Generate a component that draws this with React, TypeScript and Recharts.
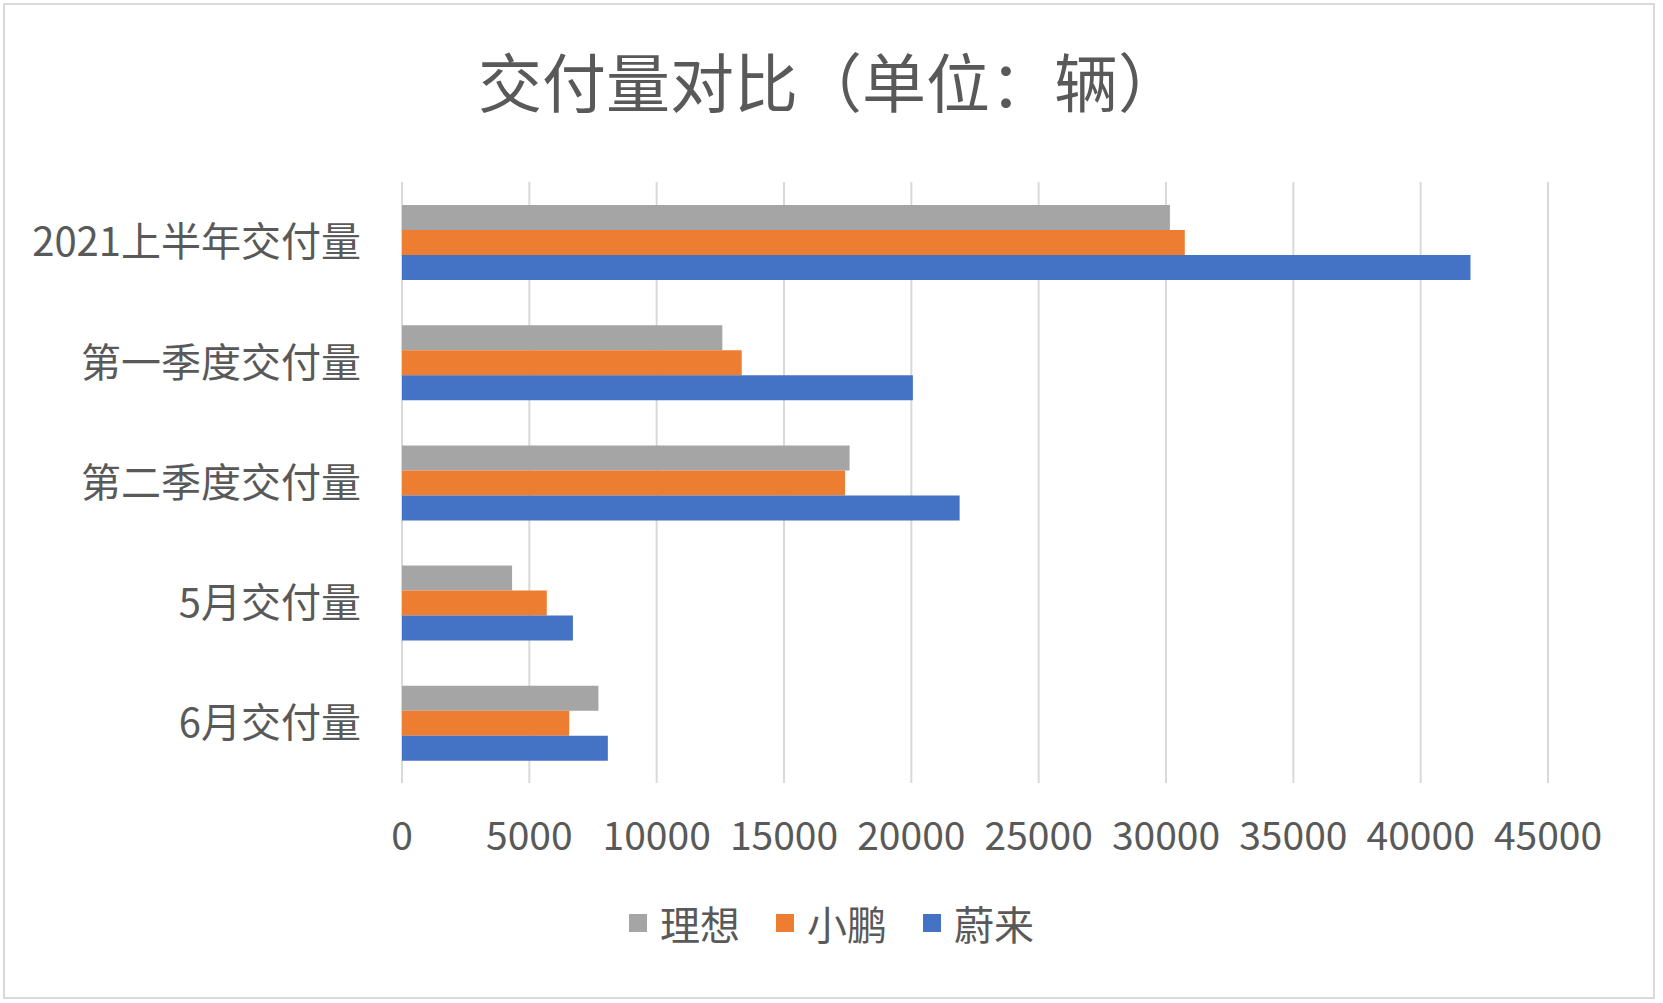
import { Bar, BarChart, CartesianGrid, Legend, XAxis, YAxis } from "recharts"

const categories = ["2021上半年交付量", "第一季度交付量", "第二季度交付量", "5月交付量", "6月交付量"]
const liAuto = [30154, 12579, 17575, 4323, 7713]
const xpeng = [30738, 13340, 17398, 5686, 6565]
const nio = [41956, 20060, 21896, 6711, 8083]
const xTicks = [0, 5000, 10000, 15000, 20000, 25000, 30000, 35000, 40000, 45000]

const series = [
  { key: "li", name: "理想", color: "#A5A5A5", values: liAuto },
  { key: "xp", name: "小鹏", color: "#ED7D31", values: xpeng },
  { key: "nio", name: "蔚来", color: "#4472C4", values: nio },
]

const data = categories.map((name, i) => {
  const row: Record<string, string | number> = { name }
  series.forEach((s) => {
    row[s.key] = s.values[i]
  })
  return row
})

const FONT = '"Noto Sans CJK SC", "Noto Sans", sans-serif'
const TEXT = "#595959"

const renderLegend = () => (
  <div
    style={{
      display: "flex",
      justifyContent: "center",
      alignItems: "center",
      height: 52,
      fontFamily: FONT,
      fontSize: 40,
      color: TEXT,
    }}
  >
    {series.map((s, i) => (
      <div
        key={s.key}
        style={{ display: "flex", alignItems: "center", marginRight: i < series.length - 1 ? 36 : 0 }}
      >
        <span style={{ width: 18, height: 18, background: s.color, marginRight: 13, display: "inline-block" }} />
        <span style={{ lineHeight: 1 }}>{s.name}</span>
      </div>
    ))}
  </div>
)

export default function App() {
  return (
    <div
      style={{
        position: "absolute",
        left: 0,
        top: 0,
        width: 1663,
        height: 1003,
        background: "#fff",
        fontFamily: FONT,
      }}
    >
      <div
        style={{
          position: "absolute",
          left: 3,
          top: 3,
          width: 1648,
          height: 992,
          border: "2px solid #d9d9d9",
        }}
      />
      <div
        style={{
          position: "absolute",
          left: 0,
          top: 47,
          width: 1660,
          textAlign: "center",
          fontSize: 64,
          lineHeight: 1,
          color: TEXT,
        }}
      >
        交付量对比（单位：辆）
      </div>
      <BarChart
        width={1663}
        height={1003}
        data={data}
        layout="vertical"
        margin={{ top: 182, right: 115, bottom: 140, left: 0 }}
        barCategoryGap={23}
        barGap={0}
      >
        <CartesianGrid horizontal={false} stroke="#d9d9d9" strokeWidth={2} />
        <XAxis
          type="number"
          domain={[0, 45000]}
          ticks={xTicks}
          interval={0}
          axisLine={false}
          tickLine={false}
          tickSize={0}
          tickMargin={39}
          height={80}
          tick={{ fill: TEXT, fontSize: 39, fontFamily: FONT }}
        />
        <YAxis
          type="category"
          dataKey="name"
          width={402}
          axisLine={false}
          tickLine={false}
          tickSize={0}
          tickMargin={41}
          tick={{ fill: TEXT, fontSize: 40, fontFamily: FONT }}
        />
        <Legend
          verticalAlign="middle"
          align="center"
          content={renderLegend}
          wrapperStyle={{ top: 897, left: 0, width: 1663, height: 52 }}
        />
        {series.map((s) => (
          <Bar key={s.key} dataKey={s.key} name={s.name} fill={s.color} isAnimationActive={false} />
        ))}
      </BarChart>
    </div>
  )
}
